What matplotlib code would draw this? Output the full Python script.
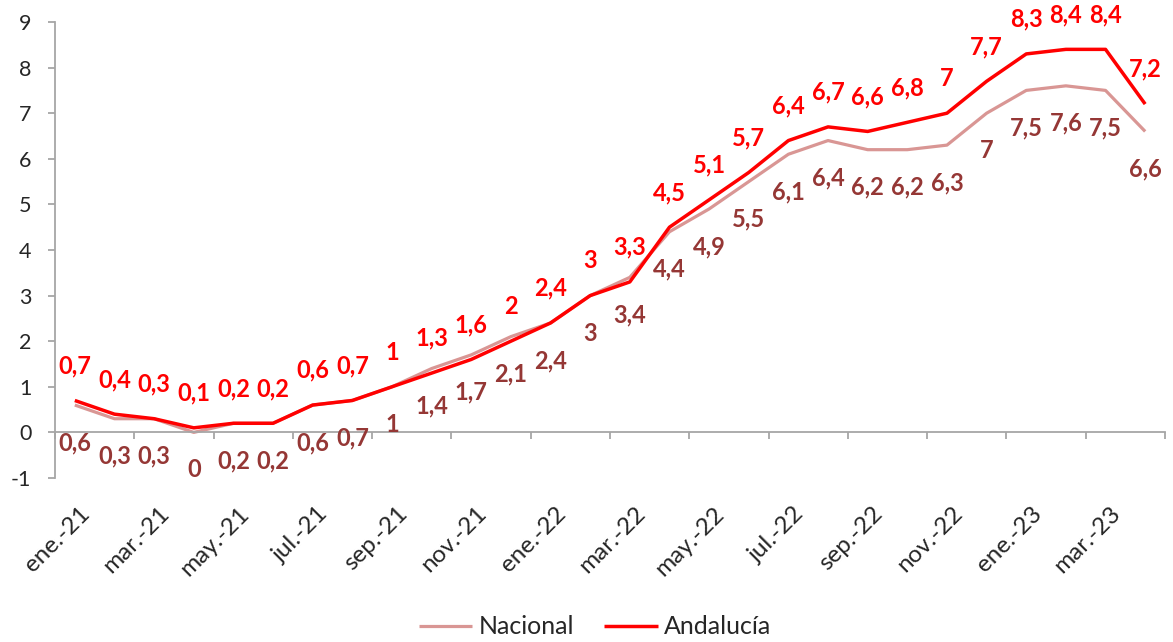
import matplotlib
matplotlib.use("Agg")
import matplotlib.pyplot as plt
import numpy as np

plt.rcParams['font.family'] = ['Lato', 'DejaVu Sans']
plt.rcParams['axes.unicode_minus'] = False

months = ["ene.-21", "feb.-21", "mar.-21", "abr.-21", "may.-21", "jun.-21", "jul.-21", "ago.-21",
          "sep.-21", "oct.-21", "nov.-21", "dic.-21", "ene.-22", "feb.-22", "mar.-22", "abr.-22",
          "may.-22", "jun.-22", "jul.-22", "ago.-22", "sep.-22", "oct.-22", "nov.-22", "dic.-22",
          "ene.-23", "feb.-23", "mar.-23", "abr.-23"]
nacional = [0.6, 0.3, 0.3, 0.0, 0.2, 0.2, 0.6, 0.7, 1.0, 1.4, 1.7, 2.1, 2.4, 3.0, 3.4, 4.4,
            4.9, 5.5, 6.1, 6.4, 6.2, 6.2, 6.3, 7.0, 7.5, 7.6, 7.5, 6.6]
andalucia = [0.7, 0.4, 0.3, 0.1, 0.2, 0.2, 0.6, 0.7, 1.0, 1.3, 1.6, 2.0, 2.4, 3.0, 3.3, 4.5,
             5.1, 5.7, 6.4, 6.7, 6.6, 6.8, 7.0, 7.7, 8.3, 8.4, 8.4, 7.2]
y_ticks = [-1, 0, 1, 2, 3, 4, 5, 6, 7, 8, 9]

C_AND = "#FF0000"
C_NAC = "#D99694"
C_NAC_LBL = "#953735"
C_AX = "#A6A6A6"

def fmt(v):
    s = ("%.1f" % v)
    if s.endswith(".0"):
        s = s[:-2]
    return s.replace(".", ",")

fig = plt.figure(figsize=(11.73, 6.42), dpi=100)
ax = fig.add_axes([55/1173, 1-478/642, (1165-55)/1173, (478-22)/642])

x = np.arange(len(months))
ax.plot(x, nacional, color=C_NAC, lw=2.3, label="Nacional", solid_capstyle='butt', zorder=2)
ax.plot(x, andalucia, color=C_AND, lw=2.5, label="Andalucía", solid_capstyle='butt', zorder=3)

for xi, v in zip(x, andalucia):
    ax.annotate(fmt(v), (xi, v), xytext=(0, 25), textcoords='offset points',
                ha='center', va='center', color=C_AND, fontsize=17, fontweight='bold',
                annotation_clip=False)
for xi, v in zip(x, nacional):
    ax.annotate(fmt(v), (xi, v), xytext=(0, -27), textcoords='offset points',
                ha='center', va='center', color=C_NAC_LBL, fontsize=17, fontweight='bold',
                annotation_clip=False)

ax.set_xlim(-0.5, len(months) - 0.5)
ax.set_ylim(-1, 9)
ax.set_yticks(y_ticks)
ax.set_yticklabels([str(t) for t in y_ticks])

for s in ['top', 'right']:
    ax.spines[s].set_visible(False)
ax.spines['left'].set_color(C_AX)
ax.spines['left'].set_linewidth(1.3)
ax.spines['bottom'].set_color(C_AX)
ax.spines['bottom'].set_linewidth(1.3)
ax.spines['bottom'].set_position(('data', 0))

ax.set_xticks(np.arange(-0.5, len(months), 2))
ax.set_xticklabels([])
ax.set_xticks(x[::2] + 0.3, minor=True)
ax.set_xticklabels(months[::2], minor=True, rotation=45, ha='right', va='center',
                   rotation_mode='anchor', fontsize=17.5, color='#262626')
ax.tick_params(axis='x', which='major', direction='out', length=5, width=1.3, color=C_AX)
ax.tick_params(axis='x', which='minor', length=0, pad=56)
ax.tick_params(axis='y', direction='out', length=5, width=1.3, color=C_AX,
               labelsize=15.5, labelcolor='#262626', pad=12)

fig.legend(loc='center', bbox_to_anchor=(595/1173, 1-627/642), ncol=2, frameon=False,
           fontsize=18, handlelength=2.15, handletextpad=0.25, columnspacing=1.2,
           labelcolor='#262626')

fig.savefig("out.png", dpi=100)
